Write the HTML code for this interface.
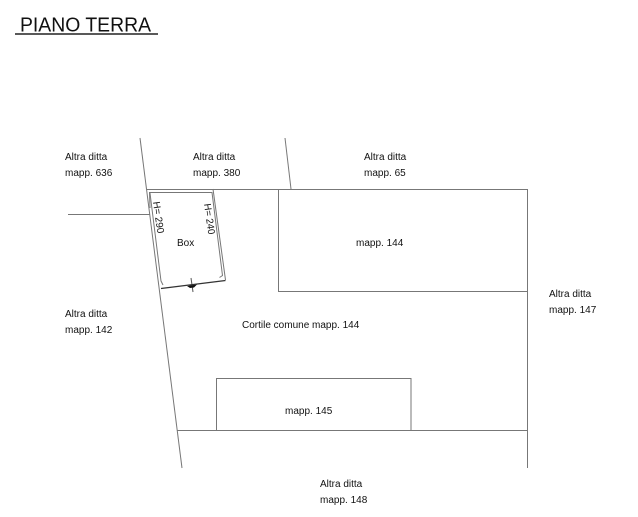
<!DOCTYPE html>
<html>
<head>
<meta charset="utf-8">
<style>
html,body{margin:0;padding:0;background:#fff}
svg{display:block}
text{font-family:"Liberation Sans",sans-serif;fill:#111}
.t{font-size:10px}
</style>
</head>
<body>
<svg width="638" height="517" viewBox="0 0 638 517" xmlns="http://www.w3.org/2000/svg">
<rect width="638" height="517" fill="#fff"/>
<g fill="none" stroke="#777" stroke-width="1">
<path d="M140 138L182 468"/>
<path d="M285 138L291 189"/>
<path d="M147 189.500H527.500V468"/>
<path d="M278.500 189V291.500H527"/>
<path d="M177 430.500H527"/>
<path d="M216.500 430V378.500H411V430"/>
<path d="M68 214.500H150"/>
<path d="M213 189L225.500 280"/>
<path d="M150 208L149.500 192.500H212L222.500 275.500L219.500 277.500"/>
<path d="M150 193L161 281L163 285"/>
<path d="M191 278L193 292" stroke="#555"/>
</g>
<path d="M161 288.500L225.500 280.500" fill="none" stroke="#333" stroke-width="1.200"/>
<path d="M187 286L197 284.500L194 287.500L190 288Z" fill="#111"/>
<path d="M15 34H158" stroke="#222" stroke-width="1.500"/>
<text x="20" y="31.500" font-size="20" textLength="131" lengthAdjust="spacingAndGlyphs">PIANO TERRA</text>
<text class="t" x="65" y="160">Altra ditta</text>
<text class="t" x="65" y="176">mapp. 636</text>
<text class="t" x="193" y="160">Altra ditta</text>
<text class="t" x="193" y="176">mapp. 380</text>
<text class="t" x="364" y="160">Altra ditta</text>
<text class="t" x="364" y="176">mapp. 65</text>
<text class="t" x="356" y="246">mapp. 144</text>
<text class="t" x="549" y="297">Altra ditta</text>
<text class="t" x="549" y="313">mapp. 147</text>
<text class="t" x="65" y="317">Altra ditta</text>
<text class="t" x="65" y="333">mapp. 142</text>
<text class="t" x="242" y="328">Cortile comune mapp. 144</text>
<text class="t" x="285" y="414">mapp. 145</text>
<text class="t" x="320" y="487">Altra ditta</text>
<text class="t" x="320" y="503">mapp. 148</text>
<text class="t" x="177" y="246">Box</text>
<text class="t" transform="translate(153 202) rotate(82)" textLength="32" lengthAdjust="spacingAndGlyphs">H= 290</text>
<text class="t" transform="translate(204 204) rotate(82)" textLength="31" lengthAdjust="spacingAndGlyphs">H= 240</text>
</svg>
</body>
</html>
